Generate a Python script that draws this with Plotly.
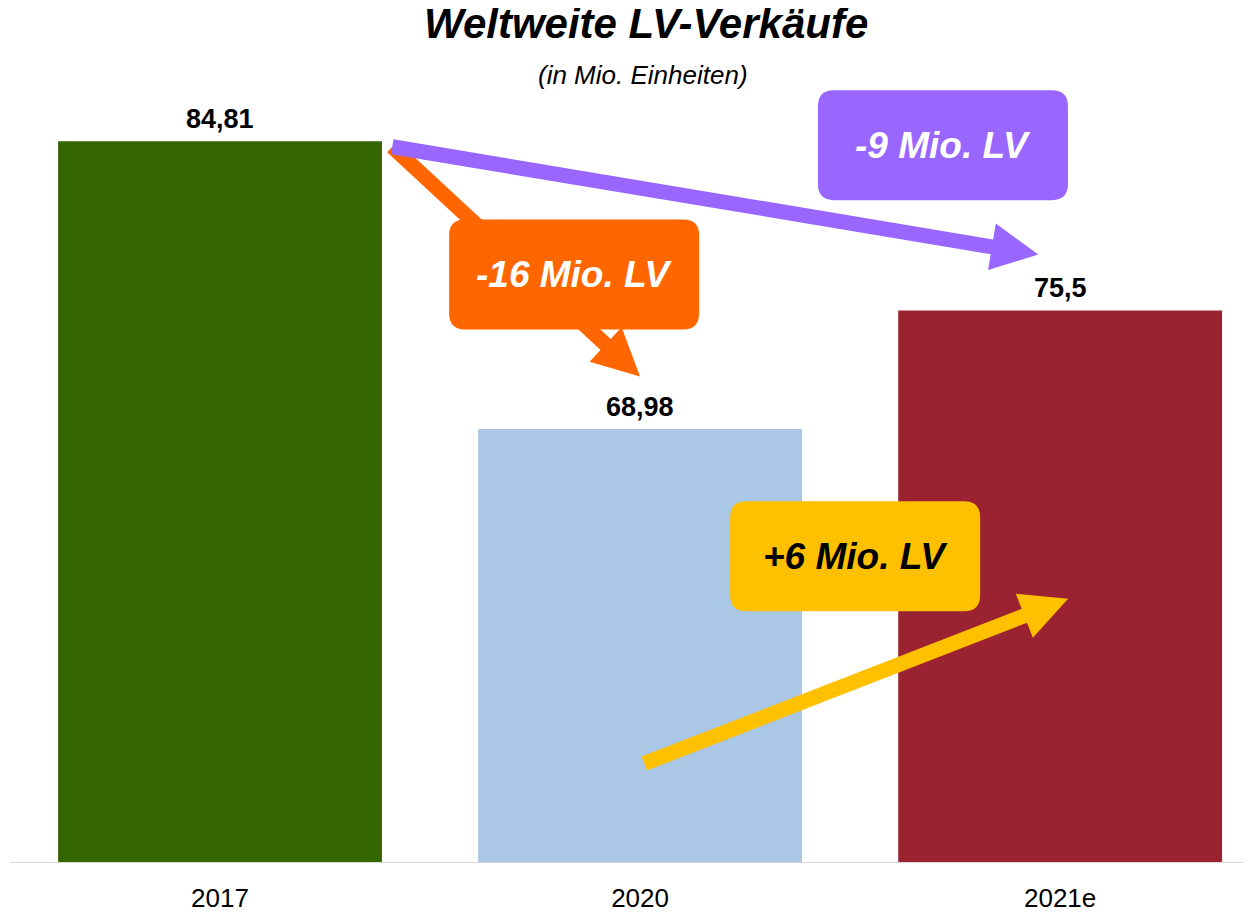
import math
import plotly.graph_objects as go

# ---------------- data ----------------
categories = ["2017", "2020", "2021e"]
sales = [84.81, 68.98, 75.5]
value_labels = ["84,81", "68,98", "75,5"]
bar_colors = ["#336600", "#AAC7E5", "#9B2230"]

title_text = "Weltweite LV-Verkäufe"
subtitle_text = "(in Mio. Einheiten)"
callout_texts = ["-16 Mio. LV", "-9 Mio. LV", "+6 Mio. LV"]
callout_colors = ["#FF6600", "#9966FF", "#FFC000"]
callout_font_colors = ["white", "white", "black"]

# ---------------- layout geometry ----------------
W, H = 1252, 913
OFF = 8  # page body margin of the html page
ML, MR, MT, MB = 10 - OFF, 2 + OFF, 47 - OFF, 51 + OFF
PW, PH = W - ML - MR, H - MT - MB
XR = [-0.5, 2.452]
YR = [45.15, 90.0]
FONT = "Liberation Sans, Arial, sans-serif"


def px(x):
    return ML + (x - XR[0]) / (XR[1] - XR[0]) * PW


def py(y):
    return MT + (YR[1] - y) / (YR[1] - YR[0]) * PH


def paper(X, Y):
    return (X - ML) / PW, (H - MB - Y) / PH


def pstr(X, Y):
    a, b = paper(X, Y)
    return f"{a:.5f},{b:.5f}"


def arrow_shapes(x0, y0, x1, y1, color, width, head_len=47, head_half=23.5):
    X0, Y0, X1, Y1 = px(x0), py(y0), px(x1), py(y1)
    dx, dy = X1 - X0, Y1 - Y0
    d = math.hypot(dx, dy)
    ux, uy = dx / d, dy / d
    nx, ny = -uy, ux
    BX, BY = X1 - head_len * ux, Y1 - head_len * uy
    LX, LY = BX + 3 * ux, BY + 3 * uy
    a0, b0 = paper(X0, Y0)
    a1, b1 = paper(LX, LY)
    line = dict(type="line", xref="paper", yref="paper", x0=a0, y0=b0, x1=a1, y1=b1,
                line=dict(color=color, width=width), layer="above")
    tri = dict(type="path", xref="paper", yref="paper",
               path=(f"M{pstr(X1, Y1)} L{pstr(BX + head_half * nx, BY + head_half * ny)} "
                     f"L{pstr(BX - head_half * nx, BY - head_half * ny)} Z"),
               fillcolor=color, line=dict(width=0), layer="above")
    return [line, tri]


def rounded_box(cx, cy, w, h, r, color):
    CX, CY = px(cx), py(cy)
    x0, x1 = CX - w / 2, CX + w / 2
    y0, y1 = CY - h / 2, CY + h / 2
    path = (f"M{pstr(x0 + r, y0)} L{pstr(x1 - r, y0)} Q{pstr(x1, y0)} {pstr(x1, y0 + r)} "
            f"L{pstr(x1, y1 - r)} Q{pstr(x1, y1)} {pstr(x1 - r, y1)} "
            f"L{pstr(x0 + r, y1)} Q{pstr(x0, y1)} {pstr(x0, y1 - r)} "
            f"L{pstr(x0, y0 + r)} Q{pstr(x0, y0)} {pstr(x0 + r, y0)} Z")
    return dict(type="path", xref="paper", yref="paper", path=path,
                fillcolor=color, line=dict(width=0), layer="above")


# arrow anchors (data coordinates: category index, value)
arrow_specs = [
    # orange: 2017 -> 2020
    (0.41, sales[0] - 0.3, 1.0, sales[1] + 2.89, callout_colors[0], 15),
    # purple: 2017 -> 2021e
    (0.41, sales[0] - 0.3, 1.948, sales[2] + 3.08, callout_colors[1], 15),
    # yellow: 2020 -> 2021e
    (1.01, 50.57, 2.019, 59.64, callout_colors[2], 15),
]
box_centers = [(0.843, 77.48), (1.721, 84.6), (1.512, 61.98)]
BOX_W, BOX_H, BOX_R = 250, 110, 16

fig = go.Figure()
fig.add_trace(go.Bar(
    x=categories, y=sales, marker=dict(color=bar_colors, line=dict(width=0)),
    hoverinfo="skip", showlegend=False,
))

shapes = []
for spec in arrow_specs[:2]:
    shapes += arrow_shapes(*spec)
for (cx, cy), col in zip(box_centers, callout_colors):
    shapes.append(rounded_box(cx, cy, BOX_W, BOX_H, BOX_R, col))
shapes += arrow_shapes(*arrow_specs[2])

annotations = []
# value labels
for i, (v, lab) in enumerate(zip(sales, value_labels)):
    annotations.append(dict(x=i, y=v, xref="x", yref="y", text=lab, showarrow=False,
                            xanchor="center", yanchor="middle", yshift=22,
                            font=dict(family=FONT, size=27, color="black", weight="bold")))
# callout texts
for (cx, cy), txt, fc in zip(box_centers, callout_texts, callout_font_colors):
    a, b = paper(px(cx), py(cy))
    annotations.append(dict(x=a, y=b, xref="paper", yref="paper", text=txt, showarrow=False,
                            xanchor="center", yanchor="middle",
                            font=dict(family=FONT, size=37, color=fc, weight="bold", style="italic")))
# title / subtitle (positions given in page pixels)
annotations.append(dict(x=paper(646 - OFF, 0)[0], y=paper(0, 23.5 - OFF)[1], xref="paper", yref="paper",
                        text=title_text, showarrow=False, xanchor="center", yanchor="middle",
                        font=dict(family=FONT, size=42, color="black", weight="bold", style="italic")))
annotations.append(dict(x=paper(643 - OFF, 0)[0], y=paper(0, 75 - OFF)[1], xref="paper", yref="paper",
                        text=subtitle_text, showarrow=False, xanchor="center", yanchor="middle",
                        font=dict(family=FONT, size=26, color="black", style="italic")))

fig.update_layout(
    width=W, height=H, autosize=False,
    margin=dict(l=ML, r=MR, t=MT, b=MB, autoexpand=False),
    paper_bgcolor="white", plot_bgcolor="white",
    bargap=0.229,
    shapes=shapes, annotations=annotations,
    xaxis=dict(type="category", range=XR, showgrid=False, zeroline=False,
               showline=True, linecolor="#D9D9D9", linewidth=1, ticks="",
               ticklabelstandoff=13,
               tickfont=dict(family=FONT, size=26, color="black")),
    yaxis=dict(range=YR, visible=False, showgrid=False, zeroline=False),
    font=dict(family=FONT),
)

fig.write_html("out.html")
